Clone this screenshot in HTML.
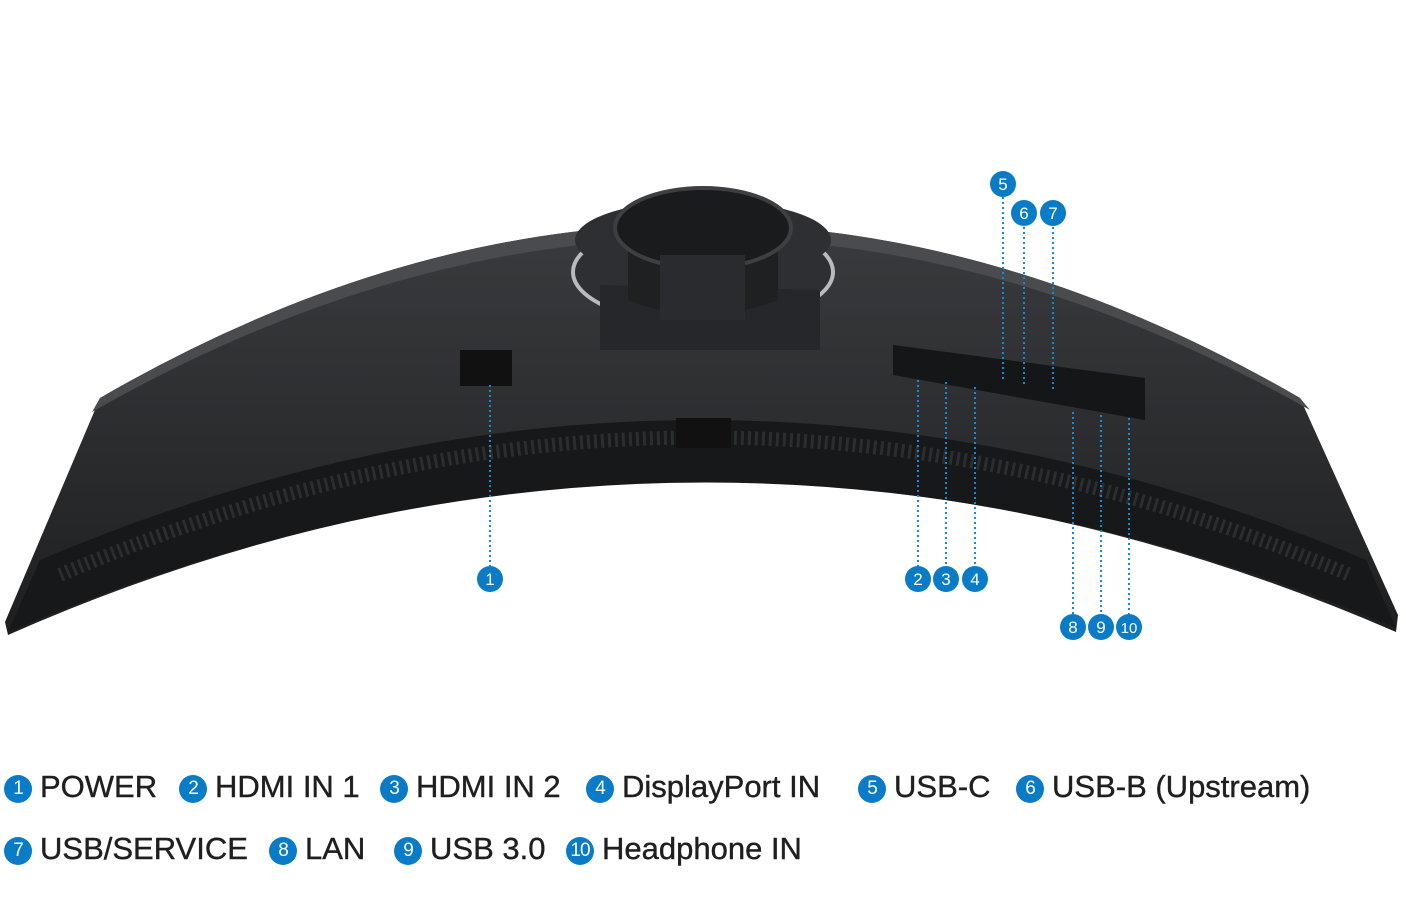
<!DOCTYPE html>
<html><head><meta charset="utf-8"><style>
html,body{margin:0;padding:0;background:#fff;width:1406px;height:907px;overflow:hidden}
.leg{position:absolute;font-family:"Liberation Sans",sans-serif;font-size:31px;color:#1f1f1f;letter-spacing:0px;white-space:nowrap;-webkit-text-stroke:0.4px #1f1f1f}
.c{display:inline-block;width:28px;height:28px;border-radius:50%;background:#0a7bc7;color:#fff;font-size:19px;text-align:center;line-height:28px;vertical-align:3px;margin-right:8px;letter-spacing:-1px;-webkit-text-stroke:0}
</style></head><body>
<svg width="1406" height="907" style="position:absolute;left:0;top:0">
<defs>
<linearGradient id="g1" x1="0" y1="0" x2="0" y2="1"><stop offset="0" stop-color="#3a3b3e"/><stop offset="1" stop-color="#1e1f21"/></linearGradient>
</defs>
<path d="M100,398 Q700,50 1300,398 L1398,615 L1396,632 Q700,330 8,635 L5,622 Z" fill="url(#g1)"/>
<path d="M100,398 Q700,50 1300,398 L1310,410 Q700,65 92,412 Z" fill="#4a4b4e"/>
<path d="M40,560 Q700,280 1366,560 L1396,628 Q700,335 8,632 Z" fill="#17181a"/>
<path d="M60,575 Q700,300 1350,575" stroke="#2c2d30" stroke-width="14" fill="none" stroke-dasharray="3 4"/>
<ellipse cx="703" cy="272" rx="130" ry="52" fill="#2e2f32" stroke="#b8babe" stroke-width="4"/>
<path d="M600,285 L600,350 L820,350 L820,290 Z" fill="#26272a"/>
<ellipse cx="703" cy="240" rx="128" ry="40" fill="#2e2f32"/>
<path d="M628,228 L628,300 Q703,330 778,300 L778,228 Z" fill="#1f2022"/>
<ellipse cx="703" cy="228" rx="88" ry="40" fill="#1a1b1d" stroke="#3e3f42" stroke-width="4"/>
<rect x="660" y="255" width="85" height="65" fill="#2a2b2e"/>
<rect x="460" y="350" width="52" height="36" fill="#111"/>
<path d="M893,345 L1145,378 L1145,420 L893,375 Z" fill="#151618"/>
<rect x="676" y="418" width="55" height="30" fill="#111"/>
<g stroke="#1a8ad0" stroke-width="2" stroke-dasharray="2 3" fill="none">
<line x1="490" y1="385" x2="490" y2="566"/>
<line x1="918" y1="380" x2="918" y2="566"/>
<line x1="946" y1="382" x2="946" y2="566"/>
<line x1="975" y1="387" x2="975" y2="566"/>
<line x1="1003" y1="197" x2="1003" y2="380"/>
<line x1="1024" y1="227" x2="1024" y2="385"/>
<line x1="1053" y1="227" x2="1053" y2="390"/>
<line x1="1073" y1="412" x2="1073" y2="614"/>
<line x1="1101" y1="415" x2="1101" y2="614"/>
<line x1="1129" y1="418" x2="1129" y2="614"/>
</g>
<g font-family="Liberation Sans,sans-serif" font-size="17" fill="#fff" text-anchor="middle">
<g fill="#0a7bc7">
<circle cx="490" cy="579" r="13"/><circle cx="918" cy="579" r="13"/><circle cx="946" cy="579" r="13"/><circle cx="975" cy="579" r="13"/>
<circle cx="1003" cy="184" r="13"/><circle cx="1024" cy="213" r="13"/><circle cx="1053" cy="213" r="13"/>
<circle cx="1073" cy="627" r="13"/><circle cx="1101" cy="627" r="13"/><circle cx="1129" cy="627" r="13"/>
</g>
<text x="490" y="585">1</text><text x="918" y="585">2</text><text x="946" y="585">3</text><text x="975" y="585">4</text>
<text x="1003" y="190">5</text><text x="1024" y="219">6</text><text x="1053" y="219">7</text>
<text x="1073" y="633">8</text><text x="1101" y="633">9</text><text x="1129" y="633" font-size="15">10</text>
</g>
</svg>
<div class="leg" style="left:4px;top:769px"><span class="c">1</span>POWER</div>
<div class="leg" style="left:179px;top:769px"><span class="c">2</span>HDMI IN 1</div>
<div class="leg" style="left:380px;top:769px"><span class="c">3</span>HDMI IN 2</div>
<div class="leg" style="left:586px;top:769px"><span class="c">4</span>DisplayPort IN</div>
<div class="leg" style="left:858px;top:769px"><span class="c">5</span>USB-C</div>
<div class="leg" style="left:1016px;top:769px"><span class="c">6</span>USB-B (Upstream)</div>
<div class="leg" style="left:4px;top:831px"><span class="c">7</span>USB/SERVICE</div>
<div class="leg" style="left:269px;top:831px"><span class="c">8</span>LAN</div>
<div class="leg" style="left:394px;top:831px"><span class="c">9</span>USB 3.0</div>
<div class="leg" style="left:566px;top:831px"><span class="c">10</span>Headphone IN</div>
</body></html>
